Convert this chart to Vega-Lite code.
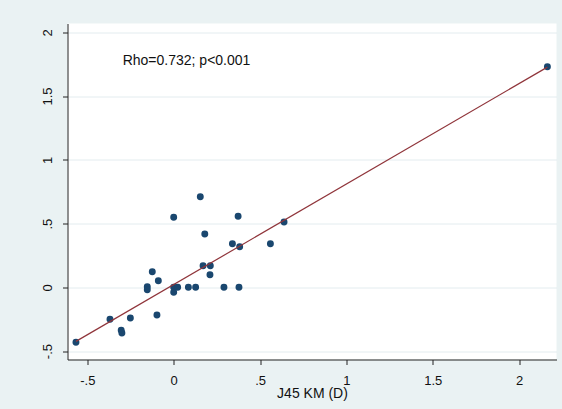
{
  "$schema": "https://vega.github.io/schema/vega-lite/v6.json",
  "usermeta": {"embedOptions": {"actions": false}},
  "width": 489,
  "height": 336,
  "autosize": {"type": "none"},
  "padding": {"left": 67.5, "top": 23.5, "right": 5.5, "bottom": 49.5},
  "background": "#eaf2f3",
  "config": {
    "view": {"fill": "white", "stroke": null},
    "font": "Liberation Sans",
    "axis": {
      "domainColor": "#222222",
      "domainWidth": 1,
      "tickColor": "#222222",
      "tickSize": 5,
      "tickWidth": 1,
      "labelColor": "#111111",
      "labelFont": "Liberation Sans",
      "labelFontSize": 13,
      "titleFont": "Liberation Sans",
      "titleFontSize": 14,
      "titleFontWeight": "normal",
      "titleColor": "#111111"
    }
  },
  "datasets": {
    "points": [
      {"x": -0.566, "y": -0.431},
      {"x": -0.369, "y": -0.251},
      {"x": -0.304, "y": -0.337},
      {"x": -0.300, "y": -0.358},
      {"x": -0.251, "y": -0.241},
      {"x": -0.097, "y": -0.217},
      {"x": -0.153, "y": 0.005},
      {"x": -0.153, "y": -0.019},
      {"x": -0.124, "y": 0.122},
      {"x": -0.089, "y": 0.052},
      {"x": 0.0, "y": 0.549},
      {"x": 0.0, "y": 0.0},
      {"x": 0.0, "y": -0.039},
      {"x": 0.023, "y": 0.0},
      {"x": 0.085, "y": 0.0},
      {"x": 0.127, "y": 0.0},
      {"x": 0.154, "y": 0.711},
      {"x": 0.180, "y": 0.418},
      {"x": 0.170, "y": 0.169},
      {"x": 0.212, "y": 0.169},
      {"x": 0.210, "y": 0.099},
      {"x": 0.291, "y": 0.0},
      {"x": 0.340, "y": 0.342},
      {"x": 0.373, "y": 0.557},
      {"x": 0.382, "y": 0.318},
      {"x": 0.378, "y": 0.0},
      {"x": 0.560, "y": 0.342},
      {"x": 0.639, "y": 0.512},
      {"x": 2.164, "y": 1.730}
    ],
    "fit": [
      {"x": -0.566, "y": -0.424},
      {"x": 2.164, "y": 1.727}
    ],
    "note": [
      {"x": -0.2955, "y": 1.777, "label": "Rho=0.732; p<0.001"}
    ]
  },
  "layer": [
    {
      "data": {"name": "points"},
      "mark": {"type": "point", "filled": true, "opacity": 1, "size": 48, "color": "#1a476f"},
      "encoding": {
        "x": {
          "field": "x",
          "type": "quantitative",
          "scale": {"domain": [-0.615, 2.2167], "nice": false, "zero": false},
          "axis": {
            "values": [-0.5, 0, 0.5, 1, 1.5, 2],
            "grid": false,
            "labelExpr": "(datum.value < 0 ? '-' : '') + replace(toString(abs(datum.value)), '0.', '.')",
            "labelPadding": 10,
            "labelBaseline": "top",
            "title": "J45 KM (D)",
            "titleBaseline": "alphabetic",
            "titleY": 37.5
          }
        },
        "y": {
          "field": "y",
          "type": "quantitative",
          "scale": {"domain": [-0.566, 2.069], "nice": false, "zero": false},
          "axis": {
            "values": [-0.5, 0, 0.5, 1, 1.5, 2],
            "grid": true,
            "gridColor": "#e3ecef",
            "gridWidth": 1,
            "labelExpr": "(datum.value < 0 ? '-' : '') + replace(toString(abs(datum.value)), '0.', '.')",
            "labelAngle": -90,
            "labelAlign": "center",
            "labelBaseline": "alphabetic",
            "labelPadding": 11.5,
            "title": null
          }
        }
      }
    },
    {
      "data": {"name": "fit"},
      "mark": {"type": "line", "color": "#90353b", "strokeWidth": 1.2},
      "encoding": {
        "x": {"field": "x", "type": "quantitative"},
        "y": {"field": "y", "type": "quantitative"}
      }
    },
    {
      "data": {"name": "note"},
      "mark": {"type": "text", "align": "left", "baseline": "middle", "fontSize": 14, "color": "#111111", "font": "Liberation Sans"},
      "encoding": {
        "x": {"field": "x", "type": "quantitative"},
        "y": {"field": "y", "type": "quantitative"},
        "text": {"field": "label"}
      }
    }
  ]
}
